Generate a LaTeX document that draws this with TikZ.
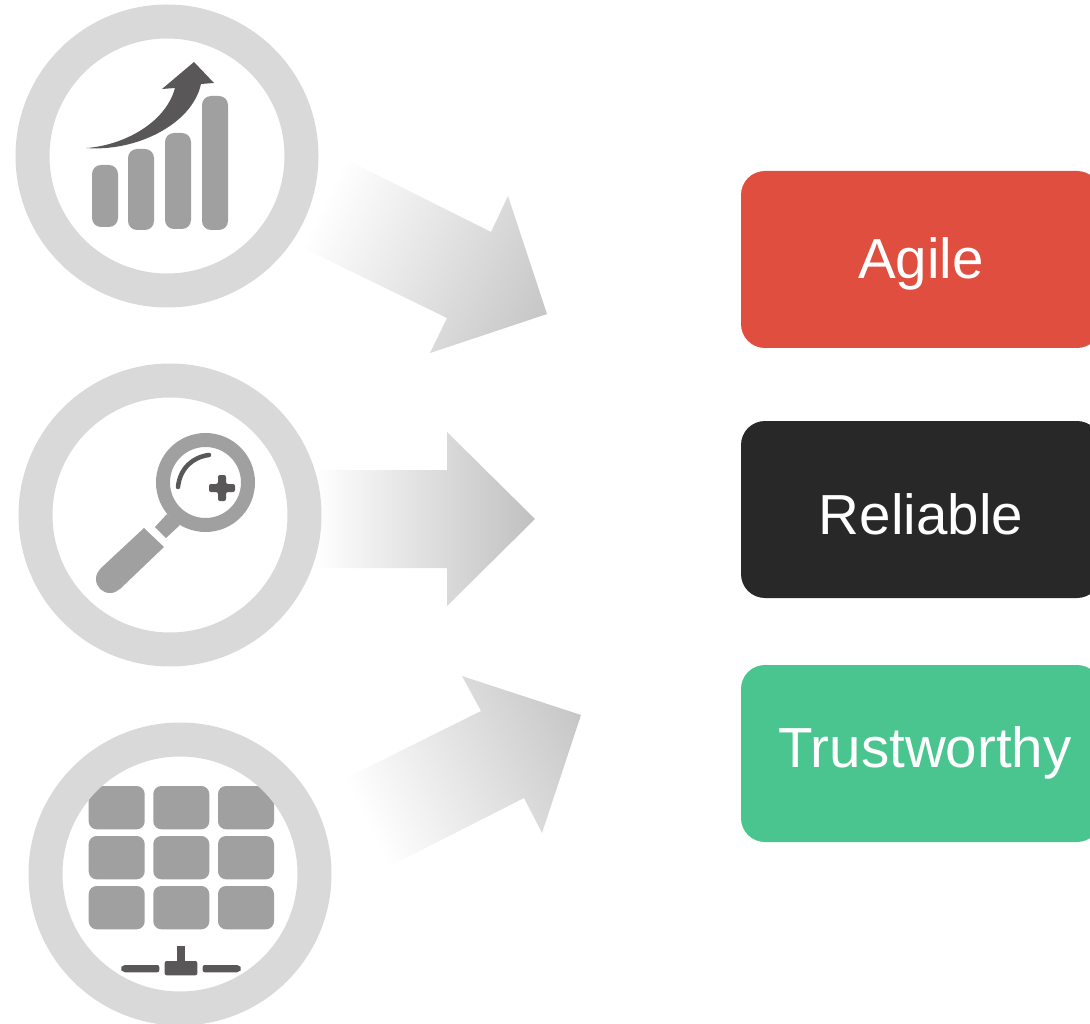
\documentclass[tikz,border=0pt]{standalone}
\usepackage{fontspec}
\setmainfont{Liberation Sans}
\definecolor{ringgray}{HTML}{D9D9D9}
\definecolor{icongray}{HTML}{A0A0A0}
\definecolor{icondark}{HTML}{595757}
\definecolor{agilered}{HTML}{E04E40}
\definecolor{reliableblack}{HTML}{282828}
\definecolor{trustgreen}{HTML}{4AC58F}
\definecolor{arrowmid}{HTML}{EAEAEA}
\definecolor{arrowend}{HTML}{C0C0C0}
\definecolor{slantmid}{HTML}{F1F1F1}
\definecolor{slantend}{HTML}{C6C6C6}
\tikzset{
    ring/.style={circle, draw=ringgray, line width=34pt, minimum size=269pt, inner sep=0pt},
    qualitybox/.style={rounded corners=24pt, minimum width=360pt, minimum height=177pt, inner sep=0pt, text=white, text depth=0pt, font=\fontsize{56.5}{60}\selectfont},
    bar/.style={fill=icongray, rounded corners=9pt},
    tile/.style={fill=icongray, rounded corners=8pt},
    darkpart/.style={fill=icondark},
    bigarrow/.style 2 args={transform canvas={shift={#1}, rotate=#2}, left color=white, middle color=arrowmid, right color=arrowend},
    slantarrow/.style 2 args={transform canvas={shift={#1}, rotate=#2}, left color=white, middle color=slantmid, right color=slantend},
}
\begin{document}
\begin{tikzpicture}[x=1pt, y=-1pt]
    \useasboundingbox (0, 0) rectangle (1090, 1024);

    % arrows
    \begin{scope}
        \clip (347, 160) -- (491, 232) -- (508, 196) -- (547, 314) -- (430, 353) -- (447, 318) -- (303, 248) -- cycle;
        \shade[slantarrow={(547, 314)}{-26.6}] (-250, -130) rectangle (0, 130);
    \end{scope}
    \begin{scope}
        \clip (315, 470) -- (447, 470) -- (447, 432) -- (535, 519) -- (447, 606) -- (447, 568) -- (315, 568) -- cycle;
        \shade[bigarrow={(535, 519)}{0}] (-220, -130) rectangle (0, 130);
    \end{scope}
    \begin{scope}
        \clip (346, 778) -- (481, 711) -- (462, 676) -- (581, 715) -- (542, 833) -- (524, 798) -- (390, 866) -- cycle;
        \shade[slantarrow={(581, 715)}{26.6}] (-240, -130) rectangle (0, 130);
    \end{scope}

    % growth icon
    \fill[bar] (92, 165) rectangle (118, 227);
    \fill[bar] (128, 149) rectangle (154, 230);
    \fill[bar] (165, 133) rectangle (191, 229);
    \fill[bar] (202, 96) rectangle (228, 230);
    \fill[darkpart] (86, 148) .. controls (120, 146) and (165, 125) .. (175, 88) -- (162, 89) -- (194, 62) -- (214, 83) -- (201, 84) .. controls (192, 125) and (135, 152) .. (86, 148) -- cycle;

    % magnifier icon
    \draw[icongray, line width=14pt] (205.5, 482.5) circle (42.5);
    \fill[icongray] (167, 514) -- (155, 527) -- (166, 538) -- (180, 525) -- cycle;
    \fill[icongray] (144, 528) -- (164, 547) -- (120, 589) -- (100, 569) -- cycle (110, 579) circle (14);
    \draw[icondark, line width=4.5pt, line cap=round] (178, 487) .. controls (180, 468) and (193, 457) .. (209, 455);
    \fill[darkpart, rounded corners=2pt] (218, 475) -- (226, 475) -- (226, 484) -- (235, 484) -- (235, 492) -- (226, 492) -- (226, 501) -- (218, 501) -- (218, 492) -- (209, 492) -- (209, 484) -- (218, 484) -- cycle;

    % grid icon
    \foreach \tilex in {88.7, 153.3, 218} {
        \foreach \tiley in {786, 836, 886} {
            \fill[tile] (\tilex, \tiley) rectangle ++(56, 43.3);
        }
    }
    \fill[darkpart, rounded corners=2pt] (164.7, 961) rectangle (197.3, 975.3);
    \fill[darkpart] (177.3, 945.7) rectangle (184.7, 963);
    \fill[darkpart, rounded corners=2pt] (120, 968.6) -- (123, 965) -- (159.3, 965) -- (159.3, 972.3) -- (123, 972.3) -- cycle;
    \fill[darkpart, rounded corners=2pt] (202.7, 965) -- (239, 965) -- (242, 968.6) -- (239, 972.3) -- (202.7, 972.3) -- cycle;

    % rings
    \node[ring] at (167, 156) (growth) {};
    \node[ring] at (170, 515) (search) {};
    \node[ring] at (180, 874) (grid) {};

    % boxes
    \node[qualitybox, fill=agilered, text height=38pt] at (921, 259.5) (agile) {Agile};
    \node[qualitybox, fill=reliableblack, text height=49pt] at (921, 509.5) (reliable) {Reliable};
    \node[qualitybox, fill=trustgreen, text height=27pt] at (921, 753.5) (trustworthy) {\hspace*{8pt}Trustworthy};
\end{tikzpicture}
\end{document}
